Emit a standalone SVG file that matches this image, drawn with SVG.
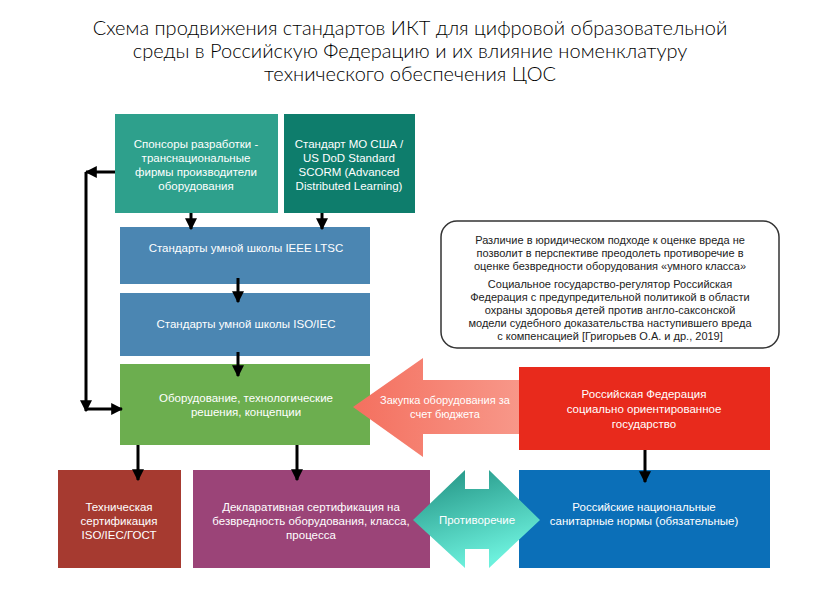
<svg xmlns="http://www.w3.org/2000/svg" width="813" height="605" viewBox="0 0 813 605">
<defs>
<style>
.t{font-family:"Liberation Sans",Arial,sans-serif;font-size:11.5px;fill:#fff;text-anchor:middle}
.n{font-family:"Liberation Sans",Arial,sans-serif;font-size:11px;fill:#222;text-anchor:middle}
.h{font-family:Lato,"Noto Sans",sans-serif;font-size:20px;font-weight:300;fill:#000;text-anchor:middle}
.c{stroke:#000;stroke-width:3;fill:none}
</style>
<marker id="a" viewBox="0 0 10 10" refX="9" refY="5" markerWidth="4" markerHeight="4" orient="auto"><path d="M0,0L10,5L0,10z" fill="#000"/></marker>
<linearGradient id="g1" x1="0" y1="0" x2="1" y2="0"><stop offset="0" stop-color="#f4705f"/><stop offset="1" stop-color="#f89c8e"/></linearGradient>
<linearGradient id="g2" x1="0" y1="0" x2="0.4" y2="1"><stop offset="0" stop-color="#1f8f80"/><stop offset="1" stop-color="#6cf0dc"/></linearGradient>
</defs>
<rect width="813" height="605" fill="#fff"/>
<g id="title">
<text class="h" x="410" y="35">Схема продвижения стандартов ИКТ для цифровой образовательной</text>
<text class="h" x="410" y="58">среды в Российскую Федерацию и их влияние номенклатуру</text>
<text class="h" x="410" y="81">технического обеспечения ЦОС</text>
</g>
<g id="sponsors"><rect x="115" y="114" width="163" height="99" fill="#2ea08c"/>
<text class="t" x="196" y="148">Спонсоры разработки -</text><text class="t" x="196" y="162">транснациональные</text><text class="t" x="196" y="176">фирмы производители</text><text class="t" x="196" y="190">оборудования</text></g>
<g id="scorm"><rect x="284" y="114" width="131" height="99" fill="#0e7d6c"/>
<text class="t" x="349" y="148">Стандарт МО США /</text><text class="t" x="349" y="162">US DoD Standard</text><text class="t" x="349" y="176">SCORM (Advanced</text><text class="t" x="349" y="190">Distributed Learning)</text></g>
<g id="ieee"><rect x="120" y="227" width="250" height="57" fill="#4b86b2"/><text class="t" x="246" y="252">Стандарты умной школы IEEE LTSC</text></g>
<g id="iso"><rect x="120" y="293" width="250" height="63" fill="#4b86b2"/><text class="t" x="246" y="328">Стандарты умной школы ISO/IEC</text></g>
<g id="equip"><rect x="120" y="364" width="250" height="81" fill="#6cae4f"/><text class="t" x="246" y="402">Оборудование, технологические</text><text class="t" x="246" y="416">решения, концепции</text></g>
<g id="note"><rect x="441" y="221" width="338" height="127" rx="16" fill="#fff" stroke="#333" stroke-width="1.5"/>
<text class="n" x="610" y="244">Различие в юридическом подходе к оценке вреда не</text>
<text class="n" x="610" y="257">позволит в перспективе преодолеть противоречие в</text>
<text class="n" x="610" y="270">оценке безвредности оборудования  «умного класса»</text>
<text class="n" x="610" y="288">Социальное государство-регулятор Российская</text>
<text class="n" x="610" y="301">Федерация с предупредительной политикой в области</text>
<text class="n" x="610" y="314">охраны здоровья детей против англо-саксонской</text>
<text class="n" x="610" y="327">модели судебного доказательства наступившего вреда</text>
<text class="n" x="610" y="340">с компенсацией [Григорьев О.А. и др., 2019]</text></g>
<g id="purchase"><path d="M353,407L423,358L423,380L540,380L540,434L423,434L423,457Z" fill="url(#g1)"/>
<text class="t" x="445" y="404" style="font-size:11px">Закупка оборудования за</text><text class="t" x="445" y="418" style="font-size:11px">счет бюджета</text></g>
<g id="rf"><rect x="519" y="367" width="251" height="83" fill="#e82a1c"/>
<text class="t" x="644" y="398">Российская Федерация</text><text class="t" x="644" y="413">социально ориентированное</text><text class="t" x="644" y="428">государство</text></g>
<g id="tech"><rect x="58" y="470" width="123" height="98" fill="#a63a30"/>
<text class="t" x="119" y="511">Техническая</text><text class="t" x="119" y="525">сертификация</text><text class="t" x="119" y="539">ISO/IEC/ГОСТ</text></g>
<g id="decl"><rect x="193" y="470" width="237" height="98" fill="#9b4478"/>
<text class="t" x="311" y="511">Декларативная сертификация на</text><text class="t" x="311" y="525">безвредность оборудования, класса,</text><text class="t" x="311" y="539">процесса</text></g>
<g id="norms"><rect x="519" y="470" width="251" height="98" fill="#0b6fb8"/>
<text class="t" x="644" y="511">Российские национальные</text><text class="t" x="644" y="525">санитарные нормы (обязательные)</text></g>
<g id="contra"><path d="M413,520L465,470L465,489L489,489L489,470L540,520L489,568L489,549L465,549L465,568Z" fill="url(#g2)"/>
<text class="t" x="477" y="524">Противоречие</text></g>
<g id="connectors">
<path class="c" d="M191,213V229" marker-end="url(#a)"/>
<path class="c" d="M322,213V229" marker-end="url(#a)"/>
<path class="c" d="M238,278V302" marker-end="url(#a)"/>
<path class="c" d="M238,352V376" marker-end="url(#a)"/>
<path class="c" d="M115,172H86" marker-end="url(#a)"/>
<path class="c" d="M86,172V411" marker-end="url(#a)"/>
<path class="c" d="M86,409H122" marker-end="url(#a)"/>
<path class="c" d="M138,445V480" marker-end="url(#a)"/>
<path class="c" d="M297,445V480" marker-end="url(#a)"/>
<path class="c" d="M645,450V482" marker-end="url(#a)"/>
</g>
</svg>
